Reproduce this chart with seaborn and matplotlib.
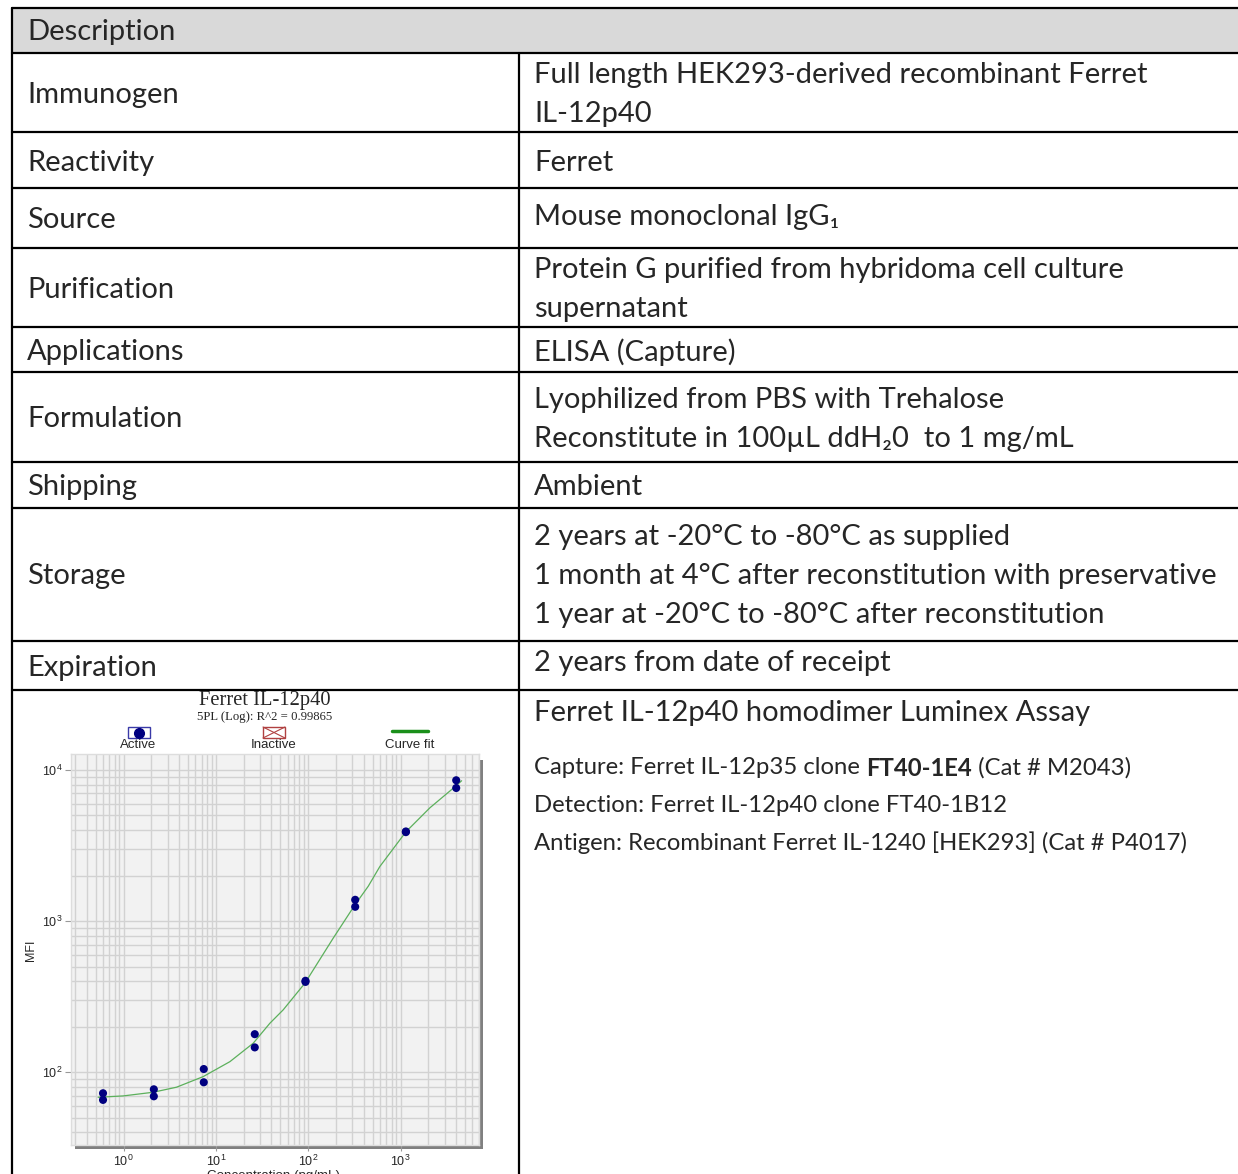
import matplotlib
matplotlib.use("Agg")
import matplotlib.pyplot as plt
import seaborn as sns
import pandas as pd
from matplotlib.patches import Rectangle
from matplotlib.ticker import LogLocator, NullFormatter

# --- data ---
conc = [0.6, 2.13, 7.4, 26.4, 93.5, 323, 1143, 4010]
mfi_rep1 = [72.6, 77.1, 105, 178.6, 403, 1384, 3920, 8550]
mfi_rep2 = [65.6, 69.3, 85.8, 146, 396, 1244, 3880, 7600]

curve_conc = [0.531, 0.99, 2.09, 3.75, 7.28, 14.2, 25.4, 38.5, 53.6, 92.1,
              186.6, 320.6, 447, 598, 1145, 2084, 4010, 4590]
curve_mfi = [68.3, 69.7, 73.7, 79.6, 93.5, 117.5, 155.6, 211, 258.6, 388,
             771, 1280, 1700, 2300, 3900, 5625, 7870, 8490]

row_labels = ["Immunogen", "Reactivity", "Source", "Purification", "Applications",
              "Formulation", "Shipping", "Storage", "Expiration"]
row_values = [
    ["Full length HEK293-derived recombinant Ferret", "IL-12p40"],
    ["Ferret"],
    ["Mouse monoclonal IgG\u2081"],
    ["Protein G purified from hybridoma cell culture", "supernatant"],
    ["ELISA (Capture)"],
    ["Lyophilized from PBS with Trehalose", "Reconstitute in 100\u00b5L ddH\u20820  to 1 mg/mL"],
    ["Ambient"],
    ["2 years at -20\u00b0C to -80\u00b0C as supplied",
     "1 month at 4\u00b0C after reconstitution with preservative",
     "1 year at -20\u00b0C to -80\u00b0C after reconstitution"],
    ["2 years from date of receipt"],
]
assay_title = "Ferret IL-12p40 homodimer Luminex Assay"
assay_lines = [
    ("Capture: Ferret IL-12p35 clone ", "FT40-1E4", " (Cat # M2043)"),
    ("Detection: Ferret IL-12p40 clone FT40-1B12", "", ""),
    ("Antigen: Recombinant Ferret IL-1240 [HEK293] (Cat # P4017)", "", ""),
]

# --- layout (pixels) ---
W, H = 1238, 1174
row_lines = [53, 132, 188, 248, 327, 372, 462, 508, 641, 690]
label_y = [95, 163, 220, 290, 352, 419, 487, 576, 668]
value_y = [[75, 114], [163], [217], [270, 309], [352], [400, 439], [487], [537, 576, 615], [663]]
col_x = 519

sns.set_theme(style="white")
body_font = ["Lato", "DejaVu Sans"]
chart_font = ["Liberation Sans", "DejaVu Sans"]

fig = plt.figure(figsize=(W / 100, H / 100), dpi=100)
bg = fig.add_axes([0, 0, 1, 1])
bg.set_xlim(0, W)
bg.set_ylim(H, 0)
bg.axis("off")

# table frame
bg.add_patch(Rectangle((12, 8), W - 12, 45, facecolor="#d9d9d9", edgecolor="none"))
lw = 1.6
bg.plot([12, W], [8, 8], color="black", lw=lw)
bg.plot([12, 12], [8, H], color="black", lw=lw)
for y in row_lines:
    bg.plot([12, W], [y, y], color="black", lw=lw)
bg.plot([col_x, col_x], [53, H], color="black", lw=lw)

fs = 21
bg.text(27, 32, "Description", fontsize=fs, family=body_font, va="center")
for lab, ly, vals, vys in zip(row_labels, label_y, row_values, value_y):
    bg.text(27, ly, lab, fontsize=fs, family=body_font, va="center")
    for v, vy in zip(vals, vys):
        bg.text(534, vy, v, fontsize=fs, family=body_font, va="center")

bg.text(534, 713, assay_title, fontsize=fs, family=body_font, va="center")
fig.canvas.draw()
renderer = fig.canvas.get_renderer()
fs2 = 17.2
for (a, b, c), y in zip(assay_lines, [768, 806, 843]):
    x = 534
    for part, weight in [(a, "normal"), (b, "bold"), (c, "normal")]:
        if not part:
            continue
        t = bg.text(x, y, part, fontsize=fs2, family=body_font, weight=weight, va="center")
        bb = t.get_window_extent(renderer)
        x = bb.x1 * W / fig.bbox.width

# chart header and legend
bg.text(265, 701, "Ferret IL-12p40", fontsize=14.8, family=["Liberation Serif"], ha="center", va="center")
bg.text(265, 717, "5PL (Log): R^2 = 0.99865", fontsize=9.2, family=["Liberation Serif"], ha="center", va="center")
bg.add_patch(Rectangle((128, 727), 22, 11, facecolor="white", edgecolor="#3a3aa8", lw=1))
bg.plot([139], [732.5], "o", color="#000080", ms=7)
bg.add_patch(Rectangle((263, 727), 22, 11, facecolor="white", edgecolor="#b04040", lw=1))
bg.plot([263, 285], [727, 738], color="#b04040", lw=0.8)
bg.plot([263, 285], [738, 727], color="#b04040", lw=0.8)
bg.plot([392, 428], [731, 731], color="#1a8f1a", lw=2.5)
for lx, lt in [(138, "Active"), (274, "Inactive"), (410, "Curve fit")]:
    bg.text(lx, 745, lt, fontsize=9.5, family=chart_font, ha="center", va="center")

# drop shadow of the plot area
bg.add_patch(Rectangle((75, 1145), 408, 4, facecolor="#808080", edgecolor="none"))
bg.add_patch(Rectangle((479, 760), 4, 389, facecolor="#808080", edgecolor="none"))

bg.text(31, 950, "MFI", fontsize=9, family=chart_font, rotation=90, ha="center", va="center")
bg.text(274, 1176, "Concentration (pg/mL)", fontsize=9.6, family=chart_font, ha="center", va="center")

# chart
left, top, right, bottom = 71, 754, 479, 1145
ax = fig.add_axes([left / W, 1 - bottom / H, (right - left) / W, (bottom - top) / H])
ax.set_facecolor("#f2f2f2")
ax.set_xscale("log")
ax.set_yscale("log")

pts = pd.DataFrame({"conc": conc * 2, "mfi": mfi_rep1 + mfi_rep2})
fit = pd.DataFrame({"conc": curve_conc, "mfi": curve_mfi})
sns.lineplot(data=fit, x="conc", y="mfi", ax=ax, color="#5cb05c", lw=0.9, zorder=3, sort=False)
sns.scatterplot(data=pts, x="conc", y="mfi", ax=ax, color="#000080", s=34, edgecolor="none", zorder=4)

ax.set_xlim(0.27, 7080)
ax.set_ylim(33, 12760)
ax.xaxis.set_major_locator(LogLocator(base=10, numticks=10))
ax.yaxis.set_major_locator(LogLocator(base=10, numticks=10))
ax.xaxis.set_minor_locator(LogLocator(base=10, subs=range(2, 10), numticks=20))
ax.yaxis.set_minor_locator(LogLocator(base=10, subs=range(2, 10), numticks=20))
ax.xaxis.set_minor_formatter(NullFormatter())
ax.yaxis.set_minor_formatter(NullFormatter())
ax.grid(which="both", color="#d2d2d2", lw=1)
ax.set_axisbelow(True)
ax.set_xlabel("")
ax.set_ylabel("")
ax.tick_params(which="major", length=4, width=0.8, color="#999999", labelsize=9, pad=2,
               bottom=True, left=True)
ax.tick_params(which="minor", length=0)
for lab in ax.get_xticklabels() + ax.get_yticklabels():
    lab.set_family(chart_font)
for s in ax.spines.values():
    s.set_color("#dddddd")
    s.set_linewidth(1)

fig.savefig("out.png", dpi=100)
